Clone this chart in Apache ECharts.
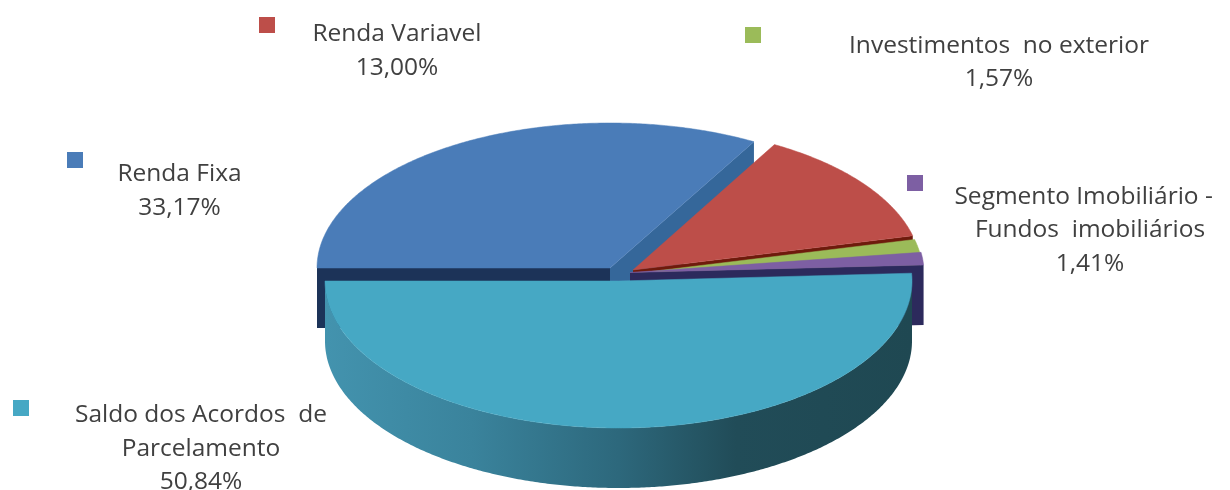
<!DOCTYPE html>
<html><head><meta charset="utf-8">
<style>html,body{margin:0;padding:0;background:#fff}#c{width:1230px;height:490px}</style>
<script src="https://cdn.jsdelivr.net/npm/echarts@6/dist/echarts.min.js"></script>
</head><body><div id="c"></div>
<script>
// ---- data (draw order: clockwise from the left edge of the pie) ----
var categories = ['Renda Fixa', 'Renda Variavel', 'Investimentos  no exterior', 'Segmento Imobiliário -  \nFundos  imobiliários', 'Saldo dos Acordos  de\nParcelamento'];
var shares = [33.17, 13.00, 1.57, 1.41, 50.84];

// ---- styles and layout ----
var topColors = ['#4a7cb8', '#bd4e49', '#9bbb59', '#7d5fa3', '#46a8c4'];
var wallColors = ['#35679a', '#6e1a0c', '#7f8a70', '#2c2a5c', null];
var cutColors = ['#1c3358', null, null, null, null];
var markerColors = ['#4a7cb8', '#bd4e49', '#9bbb59', '#7d5fa3', '#46a8c4'];
var centers = [[610, 268], [633, 270], [631, 274], [630, 272.5], [618.5, 281]];
var radii = [[293, 145], [288, 144], [292, 145], [294, 143], [293.5, 147]];
var markers = [[67, 152], [259, 17], [745, 27], [907, 175], [13, 400]];
var labelPos = [[179.5, 174.5], [397, 34.5], [999, 46], [1090, 197], [201, 415.5]];
var DEPTH = 60, LINE = 33.5, MARK = 16;

var total = shares.reduce(function (a, b) { return a + b; }, 0);
var rad = Math.PI / 180;
function pt(i, deg, dy) {
  return [centers[i][0] + radii[i][0] * Math.cos(deg * rad),
          centers[i][1] - radii[i][1] * Math.sin(deg * rad) + (dy || 0)];
}
function arc(i, from, to, dy) {
  var out = [], n = Math.max(2, Math.ceil(Math.abs(from - to) * 2));
  for (var k = 0; k <= n; k++) out.push(pt(i, from + (to - from) * k / n, dy));
  return out;
}
function poly(points, fill, stroke) {
  return { type: 'polygon', shape: { points: points },
           style: { fill: fill, stroke: stroke || null, lineWidth: stroke ? 0.5 : 0 } };
}
function pct(v) { return v.toFixed(2).replace('.', ',') + '%'; }

function renderItem(params, api) {
  var i = params.dataIndex, before = 0;
  for (var k = 0; k < i; k++) before += shares[k];
  var a0 = 180 - 360 * before / total;
  var a1 = a0 - 360 * api.value(1) / total;
  var c = centers[i], kids = [];
  var cBottom = [c[0], c[1] + DEPTH];

  // walls at the cut faces of the exploded slices
  if (cutColors[i]) {
    var e = pt(i, a0);
    kids.push(poly([c, e, [e[0], e[1] + DEPTH], cBottom], cutColors[i]));
  }
  if (wallColors[i]) {
    var e1 = pt(i, a1);
    kids.push(poly([c, e1, [e1[0], e1[1] + DEPTH], cBottom], wallColors[i]));
  }
  // front rim, only for the part facing the viewer
  if (a1 < 0) {
    var upper = arc(i, Math.min(a0, 0), a1, 0);
    var lower = arc(i, a1, Math.min(a0, 0), DEPTH);
    kids.push(poly(upper.concat(lower), new echarts.graphic.LinearGradient(0, 0, 1, 0, [
      { offset: 0, color: '#4393ae' },
      { offset: 0.25, color: '#3a839c' },
      { offset: 0.5, color: '#2d687c' },
      { offset: 0.7, color: '#214c58' },
      { offset: 1, color: '#1f4852' }
    ])));
  }
  // top face
  kids.push(poly([c].concat(arc(i, a0, a1, 0)), topColors[i], topColors[i]));
  // legend key and label
  kids.push({ type: 'rect', shape: { x: markers[i][0], y: markers[i][1], width: MARK, height: MARK },
              style: { fill: markerColors[i] }, z2: 10 });
  kids.push({ type: 'text', x: labelPos[i][0], y: labelPos[i][1] - LINE / 2, z2: 10,
              style: { text: api.value(0) + '\n' + pct(api.value(1)), fill: '#404040',
                       font: '24.5px "Open Sans", sans-serif', align: 'center', verticalAlign: 'top',
                       lineHeight: LINE, textAlign: 'center' } });
  return { type: 'group', children: kids };
}

var chart = echarts.init(document.getElementById('c'), null, { renderer: 'canvas' });
chart.setOption({
  animation: false,
  backgroundColor: '#ffffff',
  xAxis: { show: false }, yAxis: { show: false },
  series: [{
    type: 'custom',
    coordinateSystem: 'none',
    renderItem: renderItem,
    silent: true,
    encode: { itemName: 0, value: 1 },
    data: categories.map(function (n, i) { return [n, shares[i]]; })
  }]
});
</script></body></html>
